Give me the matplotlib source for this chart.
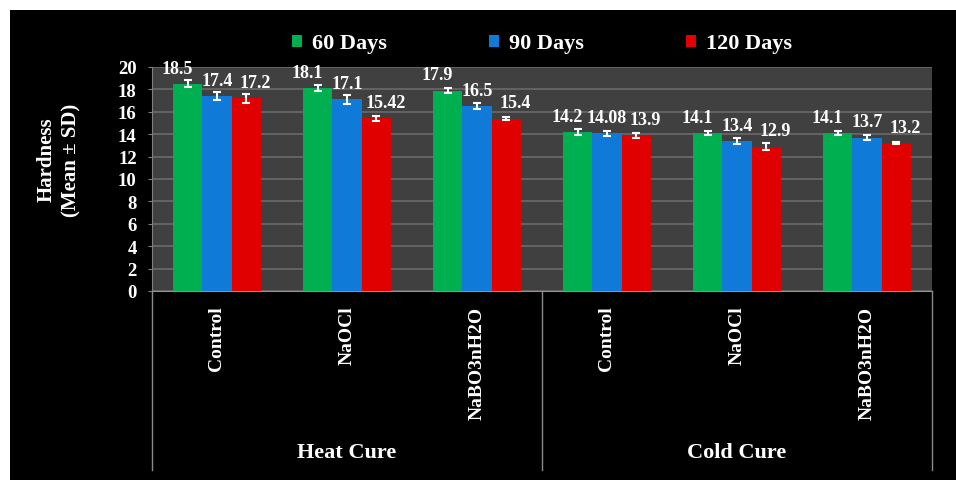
import numpy as np
import matplotlib.pyplot as plt
from matplotlib.lines import Line2D

groups = ['Heat Cure', 'Cold Cure']
treatments = ['Control', 'NaOCl', 'NaBO3nH2O', 'Control', 'NaOCl', 'NaBO3nH2O']
series = ['60 Days', '90 Days', '120 Days']
days60 = [18.5, 18.1, 17.9, 14.2, 14.1, 14.1]
days90 = [17.4, 17.1, 16.5, 14.08, 13.4, 13.7]
days120 = [17.2, 15.42, 15.4, 13.9, 12.9, 13.2]
sd60 = [0.3, 0.25, 0.2, 0.25, 0.2, 0.2]
sd90 = [0.35, 0.4, 0.25, 0.25, 0.25, 0.2]
sd120 = [0.4, 0.2, 0.15, 0.25, 0.35, 0.1]
label60 = ['18.5', '18.1', '17.9', '14.2', '14.1', '14.1']
label90 = ['17.4', '17.1', '16.5', '14.08', '13.4', '13.7']
label120 = ['17.2', '15.42', '15.4', '13.9', '12.9', '13.2']

colors = ['#00b050', '#0f7ad8', '#e00000']
serif = ['Liberation Serif', 'DejaVu Serif']


def main():
    W, H = 956, 481
    fig = plt.figure(figsize=(W / 100, H / 100), dpi=100)
    fig.patch.set_facecolor('white')
    # black panel behind everything
    fig.add_artist(plt.Rectangle((10 / W, 0), 1, 1 - 11 / H, transform=fig.transFigure,
                                 facecolor='black', edgecolor='none', zorder=-10))

    ax = fig.add_axes([152 / W, (H - 292) / H, 780 / W, 224 / H])
    ax.set_facecolor('#404040')

    x = np.arange(len(treatments))
    w = 0.225
    vals = [days60, days90, days120]
    sds = [sd60, sd90, sd120]
    labs = [label60, label90, label120]
    shift = [-0.08, 0.0, 0.07]  # data label nudges, like Excel
    for i in range(3):
        pos = x + (i - 1) * w
        ax.bar(pos, vals[i], w, color=colors[i], label=series[i], zorder=3)
        ax.errorbar(pos, vals[i], yerr=sds[i], fmt='none', ecolor='white',
                    elinewidth=1.5, capsize=3, capthick=1.5, zorder=4)
        for p, v, t in zip(pos, vals[i], labs[i]):
            ax.text(p + shift[i], v + 1.4, t, ha='center', va='center', color='white',
                    fontsize=13, fontweight='bold', family=serif, zorder=5, clip_on=False)

    ax.set_xlim(-0.5, len(treatments) - 0.5)
    ax.set_ylim(0, 20)
    ax.set_yticks(np.arange(0, 21, 2))
    ax.yaxis.grid(True, color='#6a6a6a', linewidth=1.2, zorder=0)
    ax.set_xticks([])
    for lab in ax.get_yticklabels():
        lab.set_family(serif)
        lab.set_fontweight('bold')
    ax.tick_params(axis='y', colors='white', labelsize=13.5, length=3, pad=8, color='#808080')
    for s in ['top', 'right']:
        ax.spines[s].set_visible(False)
    ax.spines['left'].set_color('#808080')
    ax.spines['bottom'].set_color('#909090')

    # category labels
    for xi, t in zip(x, treatments):
        ax.text(xi, -0.065, t, rotation=90, ha='center', va='top', color='white',
                fontsize=14, fontweight='bold', family=serif,
                transform=ax.get_xaxis_transform())
    for gi, g in enumerate(groups):
        ax.text(gi * 3 + 1, -0.72, g, ha='center', va='center', color='white',
                fontsize=16, fontweight='bold', family=serif,
                transform=ax.get_xaxis_transform())
    for xd in [-0.5, 2.5, 5.5]:
        ax.add_line(Line2D([xd, xd], [0, -0.8], color='#8a8a8a', linewidth=1,
                           transform=ax.get_xaxis_transform(), clip_on=False))

    fig.text(59 / W, 1 - 160 / H, 'Hardness\n(Mean ± SD)', rotation=90, ha='center',
             va='center', color='white', fontsize=15, fontweight='bold',
             family=serif, linespacing=1.3)

    leg = ax.legend(loc='center', bbox_to_anchor=(0.5, 1.105), ncol=3, frameon=False,
                    handlelength=0.45, handleheight=0.45, columnspacing=4.6, handletextpad=0.45,
                    prop={'family': serif, 'weight': 'bold', 'size': 16})
    for t in leg.get_texts():
        t.set_color('white')

    fig.savefig('out.png', dpi=100)
    plt.close(fig)


if __name__ == "__main__":
    main()
